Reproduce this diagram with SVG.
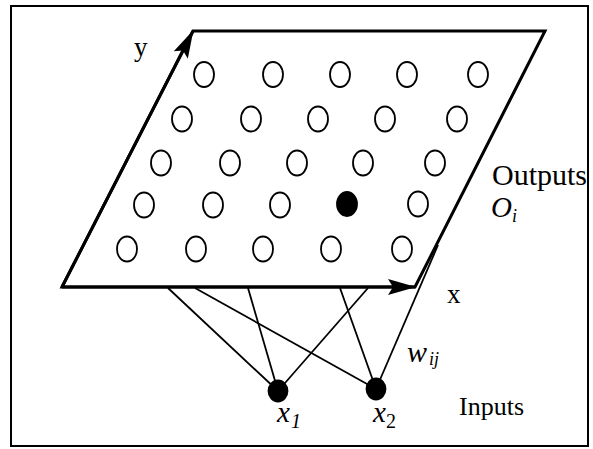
<svg xmlns="http://www.w3.org/2000/svg" width="593" height="449" viewBox="0 0 593 449">
<style>
.frame{fill:none;stroke:#000;stroke-width:2}
.plane{fill:#fff;stroke:#000;stroke-width:3;stroke-linejoin:miter}
.axis{stroke:#000;stroke-width:3;fill:none}
.node{fill:#fff;stroke:#000;stroke-width:1.8}
.filled{fill:#000;stroke:#000;stroke-width:1.8}
.conn{stroke:#000;stroke-width:1.8;fill:none}
.t{font-family:"Liberation Serif","Times New Roman","DejaVu Serif",serif;fill:#000}
.it{font-style:italic}
</style>
<defs>
<marker id="ah" viewBox="0 0 28 16" refX="27" refY="8" markerWidth="28" markerHeight="16" markerUnits="userSpaceOnUse" orient="auto">
<path d="M0,0 L28,8 L0,16 L5,8 Z" fill="#000"/>
</marker>
</defs>
<rect class="frame" x="11" y="6" width="577" height="440"/>
<g id="plane">
<polygon class="plane" points="62,287 193,31 545,31 415,287"/>
<line class="axis" x1="62" y1="287" x2="193" y2="31" marker-end="url(#ah)"/>
<line class="axis" x1="62" y1="287" x2="415" y2="287" marker-end="url(#ah)"/>
</g>
<g id="connectors">
<line class="conn" x1="168" y1="288" x2="278" y2="391"/>
<line class="conn" x1="248" y1="288" x2="278" y2="391"/>
<line class="conn" x1="368" y1="288" x2="278" y2="391"/>
<line class="conn" x1="195" y1="288" x2="376" y2="389"/>
<line class="conn" x1="340" y1="288" x2="376" y2="389"/>
<line class="conn" x1="438" y1="245" x2="376" y2="389"/>
</g>
<g id="outputs">
<g id="o11"><ellipse class="node" cx="204" cy="74.5" rx="10" ry="12.5"/></g>
<g id="o12"><ellipse class="node" cx="273" cy="74.5" rx="10" ry="12.5"/></g>
<g id="o13"><ellipse class="node" cx="340" cy="74.5" rx="10" ry="12.5"/></g>
<g id="o14"><ellipse class="node" cx="407" cy="74.5" rx="10" ry="12.5"/></g>
<g id="o15"><ellipse class="node" cx="478" cy="74.5" rx="10" ry="12.5"/></g>
<g id="o21"><ellipse class="node" cx="182" cy="119" rx="10" ry="12.5"/></g>
<g id="o22"><ellipse class="node" cx="251" cy="119" rx="10" ry="12.5"/></g>
<g id="o23"><ellipse class="node" cx="318" cy="119" rx="10" ry="12.5"/></g>
<g id="o24"><ellipse class="node" cx="385" cy="119" rx="10" ry="12.5"/></g>
<g id="o25"><ellipse class="node" cx="457" cy="119" rx="10" ry="12.5"/></g>
<g id="o31"><ellipse class="node" cx="161" cy="163" rx="10" ry="12.5"/></g>
<g id="o32"><ellipse class="node" cx="230" cy="163" rx="10" ry="12.5"/></g>
<g id="o33"><ellipse class="node" cx="297" cy="163" rx="10" ry="12.5"/></g>
<g id="o34"><ellipse class="node" cx="363" cy="163" rx="10" ry="12.5"/></g>
<g id="o35"><ellipse class="node" cx="435" cy="163" rx="10" ry="12.5"/></g>
<g id="o41"><ellipse class="node" cx="144" cy="205" rx="10" ry="12.5"/></g>
<g id="o42"><ellipse class="node" cx="213" cy="205" rx="10" ry="12.5"/></g>
<g id="o43"><ellipse class="node" cx="280" cy="205" rx="10" ry="12.5"/></g>
<g id="o44"><ellipse class="filled" cx="347" cy="204" rx="10" ry="12"/></g>
<g id="o45"><ellipse class="node" cx="418" cy="204" rx="10" ry="12.5"/></g>
<g id="o51"><ellipse class="node" cx="127" cy="249" rx="10" ry="12.5"/></g>
<g id="o52"><ellipse class="node" cx="196" cy="249" rx="10" ry="12.5"/></g>
<g id="o53"><ellipse class="node" cx="263" cy="249" rx="10" ry="12.5"/></g>
<g id="o54"><ellipse class="node" cx="331" cy="249" rx="10" ry="12.5"/></g>
<g id="o55"><ellipse class="node" cx="402" cy="249" rx="10" ry="12.5"/></g>
</g>
<g id="input-x1"><ellipse class="filled" cx="278" cy="391" rx="9.5" ry="10.5"/></g>
<g id="input-x2"><ellipse class="filled" cx="376" cy="389" rx="9.5" ry="10.5"/></g>
<g id="labels">
<text class="t" x="134" y="56" font-size="27">y</text>
<text class="t" x="447" y="303" font-size="27">x</text>
<text class="t" x="492" y="185" font-size="30">Outputs</text>
<text class="t it" x="491" y="217" font-size="29">O</text>
<text class="t it" x="512" y="222" font-size="18">i</text>
<text class="t it" x="407" y="362" font-size="30">w</text>
<text class="t it" x="429" y="365" font-size="18">ij</text>
<text class="t" x="459" y="415" font-size="26">Inputs</text>
<text class="t it" x="277" y="422" font-size="29">x</text>
<text class="t it" x="291" y="428" font-size="20">1</text>
<text class="t it" x="373" y="422" font-size="29">x</text>
<text class="t" x="386" y="428" font-size="20">2</text>
</g>
</svg>
